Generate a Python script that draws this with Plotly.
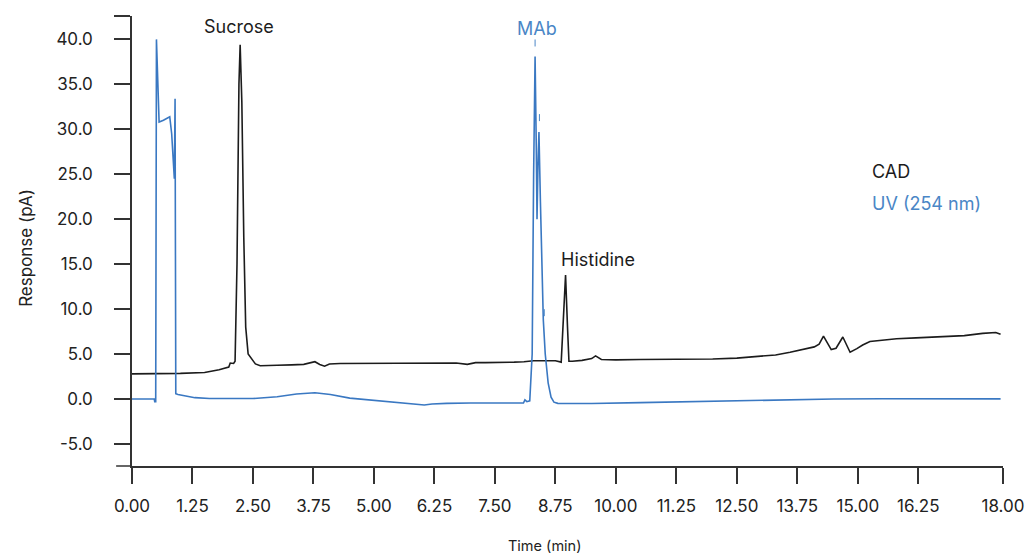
import plotly.graph_objects as go

# ---- data ----
cad_time = [0.00, 0.50, 1.00, 1.50, 1.80, 2.00, 2.03, 2.10, 2.13, 2.17, 2.21, 2.235, 2.27, 2.31,
            2.35, 2.40, 2.48, 2.55, 2.65, 2.80, 3.00, 3.30, 3.55, 3.78, 3.88, 3.98, 4.08, 4.30,
            4.80, 5.30, 5.80, 6.30, 6.70, 6.93, 7.10, 7.30, 7.60, 7.90, 8.10, 8.30, 8.50, 8.75,
            8.87, 8.92, 8.96, 9.00, 9.03, 9.10, 9.30, 9.50, 9.58, 9.70, 10.00, 10.50, 11.00,
            11.50, 12.00, 12.50, 12.90, 13.30, 13.60, 13.90, 14.10, 14.20, 14.29, 14.45, 14.55,
            14.69, 14.84, 14.98, 15.10, 15.25, 15.50, 15.80, 16.20, 16.76, 17.20, 17.58, 17.85,
            17.95]
cad_resp = [2.80, 2.80, 2.85, 2.95, 3.25, 3.55, 4.00, 3.95, 4.20, 15.0, 35.0, 39.4, 33.0, 18.0,
            8.0, 5.0, 4.4, 3.9, 3.7, 3.7, 3.75, 3.8, 3.85, 4.15, 3.85, 3.65, 3.90, 3.95,
            3.95, 4.00, 4.00, 4.00, 4.00, 3.85, 4.05, 4.05, 4.05, 4.10, 4.15, 4.25, 4.25, 4.25,
            4.10, 9.0, 13.8, 8.0, 4.2, 4.2, 4.3, 4.5, 4.8, 4.4, 4.35, 4.40, 4.40,
            4.45, 4.45, 4.55, 4.75, 4.90, 5.20, 5.55, 5.80, 6.10, 7.00, 5.50, 5.65,
            6.90, 5.20, 5.60, 6.00, 6.40, 6.55, 6.70, 6.80, 6.90, 7.05, 7.30, 7.40,
            7.20]

uv_time = [0.00, 0.46, 0.47, 0.49, 0.505, 0.53, 0.56, 0.65, 0.78, 0.82, 0.875, 0.89, 0.905,
           0.95, 1.00, 1.10, 1.30, 1.60, 2.00, 2.50, 3.00, 3.40, 3.78, 4.10, 4.50, 5.00, 5.50,
           5.90, 6.04, 6.20, 6.50, 7.00, 7.50, 8.00, 8.09, 8.12, 8.16, 8.22, 8.27, 8.30, 8.33,
           8.355, 8.37, 8.39, 8.41, 8.44, 8.47, 8.50, 8.54, 8.60, 8.66, 8.72, 8.80, 9.50,
           10.50, 11.50, 12.50, 13.50, 14.50, 15.50, 16.50, 17.50, 17.95]
uv_resp = [0.0, 0.0, -0.3, -0.3, 40.0, 36.0, 30.8, 31.0, 31.4, 29.5, 24.5, 33.4, 0.6,
           0.5, 0.45, 0.3, 0.15, 0.05, 0.02, 0.05, 0.25, 0.55, 0.70, 0.50, 0.10, -0.15, -0.35,
           -0.55, -0.67, -0.55, -0.48, -0.45, -0.45, -0.45, -0.45, -0.1, -0.3, -0.2, 5.0, 25.0, 38.1,
           28.0, 20.0, 26.0, 29.7, 22.0, 14.0, 8.8, 5.0, 1.8, 0.2, -0.35, -0.48, -0.50,
           -0.40, -0.30, -0.15, -0.08, 0.00, 0.03, 0.03, 0.02, 0.02]

# small peak markers drawn above the MAb peaks
mark_time = [8.33, 8.42, 8.52]
mark_resp = [39.6, 31.3, 9.6]

x_ticks = [0, 1.25, 2.5, 3.75, 5, 6.25, 7.5, 8.75, 10, 11.25, 12.5, 13.75, 15, 16.25, 18]
x_labels = ["0.00", "1.25", "2.50", "3.75", "5.00", "6.25", "7.50", "8.75", "10.00",
            "11.25", "12.50", "13.75", "15.00", "16.25", "18.00"]
y_ticks = [-5, 0, 5, 10, 15, 20, 25, 30, 35, 40, 42.6]
y_labels = ["-5.0", "0.0", "5.0", "10.0", "15.0", "20.0", "25.0", "30.0", "35.0", "40.0", ""]

peak_names = ["Sucrose", "MAb", "Histidine"]
peak_x = [2.22, 8.36, 9.63]
peak_y = [41.4, 41.2, 15.5]

BLACK = "#1c1c1c"
BLUE = "#3a78c2"
BLUE_TXT = "#4a86c6"
AXIS = "#333333"
FONT = "Inter, Liberation Sans, Arial, sans-serif"

fig = go.Figure()
fig.add_trace(go.Scatter(x=cad_time, y=cad_resp, mode="lines",
                         line=dict(color=BLACK, width=1.6), showlegend=False))
fig.add_trace(go.Scatter(x=uv_time, y=uv_resp, mode="lines",
                         line=dict(color=BLUE, width=1.6), showlegend=False))
fig.add_trace(go.Scatter(x=mark_time, y=mark_resp, mode="markers",
                         marker=dict(symbol="line-ns", size=5, line=dict(color=BLUE_TXT, width=1)),
                         showlegend=False))

for name, px, py in zip(peak_names, peak_x, peak_y):
    fig.add_annotation(x=px, y=py, text=name, showarrow=False, xref="x", yref="y",
                       font=dict(size=18, color=BLUE_TXT if name == "MAb" else BLACK, family=FONT))

fig.add_annotation(x=15.26, y=25.3, text="CAD", showarrow=False, xanchor="left",
                   font=dict(size=18, color=BLACK, family=FONT))
fig.add_annotation(x=15.26, y=21.7, text="UV (254 nm)", showarrow=False, xanchor="left",
                   font=dict(size=18, color=BLUE_TXT, family=FONT))

# axis titles placed like the reference
fig.add_annotation(xref="paper", yref="paper", x=(548 - 132) / 878, y=-(545 - 466) / 450,
                   text="Time (min)", showarrow=False, yanchor="middle",
                   font=dict(size=14.5, color="#222222", family=FONT))
fig.add_annotation(xref="paper", yref="paper", x=-(132 - 25) / 878, y=(466 - 248) / 450,
                   text="Response (pA)", showarrow=False, textangle=-90, xanchor="center",
                   font=dict(size=17, color="#222222", family=FONT))

# extend x-axis line to the left like the reference
fig.add_shape(type="line", xref="paper", yref="paper", x0=-16 / 878, x1=0, y0=0, y1=0,
              line=dict(color=AXIS, width=1.5))

fig.update_layout(
    width=1036, height=554,
    margin=dict(l=132, r=26, t=16, b=88),
    plot_bgcolor="white", paper_bgcolor="white",
    font=dict(family=FONT, color="#222222"),
    xaxis=dict(range=[0, 18], tickvals=x_ticks, ticktext=x_labels, showgrid=False,
               zeroline=False, showline=True, linecolor=AXIS, linewidth=1.5,
               ticks="outside", ticklen=16, tickwidth=1.5, tickcolor=AXIS,
               tickfont=dict(size=17, family=FONT), ticklabelstandoff=8),
    yaxis=dict(range=[-7.45, 42.6], tickvals=y_ticks, ticktext=y_labels, showgrid=False,
               zeroline=False, showline=True, linecolor=AXIS, linewidth=1.5,
               ticks="outside", ticklen=16, tickwidth=1.5, tickcolor=AXIS,
               tickfont=dict(size=17, family=FONT), ticklabelstandoff=18),
)

fig.write_html("out.html")
